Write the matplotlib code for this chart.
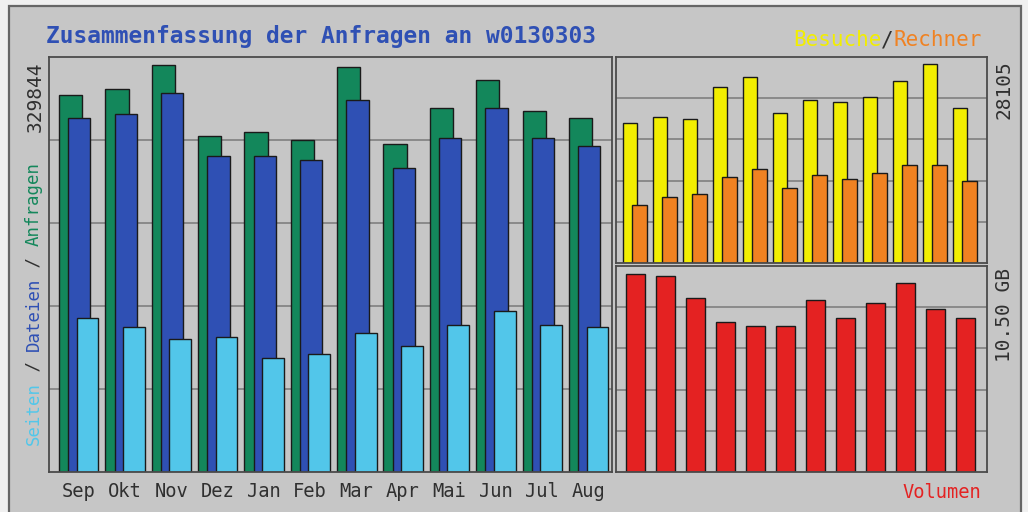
#!/usr/bin/env python
# -*- coding: utf-8 -*-
"""
Webalizer style monthly summary chart (Anfragen / Besuche / Volumen).
"""
import matplotlib
matplotlib.use('Agg')
import matplotlib.pyplot as plt
from matplotlib.patches import Rectangle

months = ['Sep', 'Okt', 'Nov', 'Dez', 'Jan', 'Feb', 'Mar', 'Apr', 'Mai',
          'Jun', 'Jul', 'Aug']
anfragen = [305400, 310300, 329844, 272800, 276100, 269600, 328200, 266300,
            295600, 317600, 292400, 287500]
dateien = [287500, 290700, 307000, 256500, 256500, 253300, 302100, 246800,
           271200, 295600, 271200, 264700]
seiten = [124600, 117300, 107500, 109100, 92800, 96100, 112400, 101800,
          118900, 130300, 118900, 117300]
besuche = [19830, 20690, 20400, 24820, 26250, 21260, 23110, 22830, 23400,
           25680, 28105, 21970]
rechner = [8130, 9270, 9700, 12130, 13270, 10560, 12410, 11840, 12700,
           13840, 13840, 11560]
volumen_gb = [10.50, 10.39, 9.21, 7.93, 7.71, 7.71, 9.11, 8.14, 8.95, 10.02,
              8.63, 8.14]

title = 'Zusammenfassung der Anfragen an w0130303'

W, H = 1028, 512
MONO = 'DejaVu Sans Mono'
PANEL = '#c6c6c6'
GRID = '#7a7a7a'
EDGE = '#1a1a1a'
c_anfr = '#13875b'
c_dat = '#2f50b4'
c_seit = '#52c6ea'
c_bes = '#f2ee00'
c_rech = '#f08222'
c_vol = '#e42222'
c_txt = '#303030'


def _axes(fig, x0, y0, x1, y1):
    """add axes given in pixel coords (origin top left)"""
    ax = fig.add_axes([x0 / W, 1 - y1 / H, (x1 - x0) / W, (y1 - y0) / H])
    ax.set_facecolor(PANEL)
    for sp in ax.spines.values():
        sp.set_color('#4a4a4a')
        sp.set_linewidth(1.3)
    ax.set_axisbelow(True)
    ax.tick_params(length=0, labelleft=False, labelbottom=False)
    return ax


def _grid(ax, top):
    ax.set_ylim(0, top)
    ax.set_yticks([top * k / 5. for k in range(1, 5)])
    ax.yaxis.grid(True, color=GRID, lw=1.1)


def _ftext(fig, x, y, s, **kw):
    """text in pixel coords"""
    kw.setdefault('family', MONO)
    return fig.text(x / W, 1 - y / H, s, **kw)


def _charw(fs):
    return fs * 100 / 72. * 0.602


def _colored(fig, x, y, parts, fs, vertical=False):
    """monospace multi colour label, parts = [(txt, colour), ...]"""
    cw = _charw(fs)
    n = 0
    for txt, col in parts:
        if vertical:
            _ftext(fig, x, y - n * cw, txt, color=col, fontsize=fs,
                   rotation=90, rotation_mode='anchor', ha='left',
                   va='center')
        else:
            _ftext(fig, x + n * cw, y, txt, color=col, fontsize=fs,
                   ha='left', va='center')
        n += len(txt)


fig = plt.figure(figsize=(W / 100., H / 100.), dpi=100)
fig.patch.set_facecolor('#f0f0f0')
fig.patches.append(Rectangle((9 / W, -0.05), 1012 / W, 1 - 6 / H + 0.05,
                             transform=fig.transFigure, facecolor=PANEL,
                             edgecolor='#666666', lw=1.6, zorder=-10))

idx = list(range(len(months)))
bw = dict(edgecolor=EDGE, linewidth=1.0, align='edge')

# main chart: requests / files / pages
ax = _axes(fig, 49, 57, 612, 472)
ax.set_xlim(-0.215, 11.93)
_grid(ax, max(anfragen) / 0.98)
ax.bar([i for i in idx], anfragen, 0.5, color=c_anfr, **bw)
ax.bar([i + 0.2 for i in idx], dateien, 0.48, color=c_dat, **bw)
ax.bar([i + 0.38 for i in idx], seiten, 0.47, color=c_seit, **bw)
ax.set_xticks([i + 0.42 for i in idx])
ax.set_xticklabels(months, family=MONO, fontsize=13.5, color=c_txt)
ax.tick_params(axis='x', labelbottom=True, pad=7)

# visits / sites
ax2 = _axes(fig, 616, 57, 987, 263)
ax2.set_xlim(-0.233, 12.13)
_grid(ax2, max(besuche) / 0.965)
ax2.bar(idx, besuche, 0.47, color=c_bes, **bw)
ax2.bar([i + 0.3 for i in idx], rechner, 0.5, color=c_rech, **bw)
ax2.set_xticks([])

# volume
ax3 = _axes(fig, 616, 266, 987, 472)
ax3.set_xlim(-0.233, 12.13)
_grid(ax3, max(volumen_gb) / 0.962)
ax3.bar([i + 0.1 for i in idx], volumen_gb, 0.64, color=c_vol, **bw)
ax3.set_xticks([])

# labels
_ftext(fig, 46, 36, title, color=c_dat, fontsize=16.5, weight='bold',
       ha='left', va='center')
fs_leg = 15
_colored(fig, 981 - 15 * _charw(fs_leg), 40,
         [('Besuche', c_bes), ('/', c_txt), ('Rechner', c_rech)], fs_leg)
_ftext(fig, 981, 492, 'Volumen', color=c_vol, fontsize=13.5, ha='right',
       va='center')
_colored(fig, 34, 445, [('Seiten', c_seit), (' / ', c_txt),
                        ('Dateien', c_dat), (' / ', c_txt),
                        ('Anfragen', c_anfr)], 12.5, vertical=True)
_ftext(fig, 35, 61, '%d' % max(anfragen), color=c_txt, fontsize=14,
       rotation=90, rotation_mode='anchor', ha='right', va='center')
_ftext(fig, 1004, 60, '%d' % max(besuche), color=c_txt, fontsize=14,
       rotation=90, rotation_mode='anchor', ha='right', va='center')
_ftext(fig, 1004, 268, '%.2f GB' % max(volumen_gb), color=c_txt,
       fontsize=14, rotation=90, rotation_mode='anchor', ha='right',
       va='center')

fig.savefig('out.png', dpi=100, facecolor=fig.get_facecolor())
plt.close('all')
